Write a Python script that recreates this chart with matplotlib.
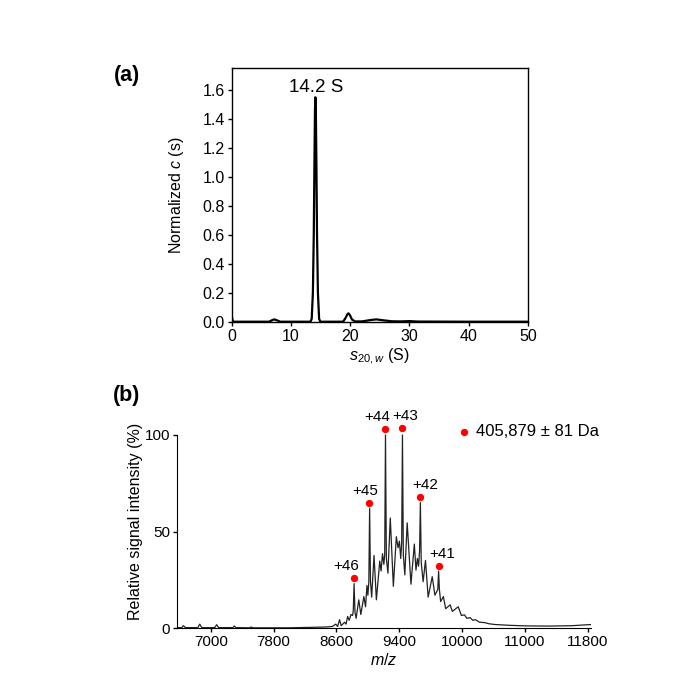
import matplotlib
matplotlib.use("Agg")
import matplotlib.pyplot as plt

plt.rcParams['font.family'] = ['Liberation Sans', 'DejaVu Sans']
plt.rcParams['mathtext.fontset'] = 'custom'
plt.rcParams['mathtext.rm'] = 'Liberation Sans'
plt.rcParams['mathtext.it'] = 'Liberation Sans:italic'

# ---------------- Panel (a): c(s) distribution ----------------
s_vals = [0.0, 0.08, 0.25, 3.0, 6.3, 6.9, 7.2, 7.6, 8.2, 13.3, 13.5, 13.7, 13.85,
          13.95, 14.05, 14.12, 14.2, 14.3, 14.4, 14.55, 14.75, 14.95, 18.8, 19.2,
          19.5, 19.7, 19.95, 20.3, 20.8, 22.0, 23.5, 24.4, 25.5, 27.0, 28.5, 30.0,
          31.5, 40.0, 50.0]
c_vals = [0.055, 0.02, 0.0, 0.0, 0.0, 0.012, 0.016, 0.01, 0.0, 0.0, 0.02, 0.2, 0.6,
          1.05, 1.45, 1.55, 1.45, 1.05, 0.6, 0.2, 0.02, 0.0, 0.0, 0.025,
          0.05, 0.058, 0.045, 0.015, 0.002, 0.002, 0.012, 0.016, 0.01, 0.003, 0.002,
          0.004, 0.001, 0.0, 0.0]
peak_label = "14.2 S"
peak_label_pos = (14.3, 1.586)

# ---------------- Panel (b): native MS spectrum ----------------
mz_vals = [6570, 6630, 6653, 6676, 6835, 6860, 6885, 7050, 7075, 7100, 7280, 7300,
           7320, 7495, 7515, 7535, 8000, 8462, 8548, 8591, 8615, 8639, 8660, 8680,
           8703, 8722, 8742, 8762, 8785, 8805, 8814, 8824, 8836, 8850, 8884, 8910,
           8949, 8970, 8988, 9000, 9012, 9022, 9033, 9048, 9078, 9108, 9151, 9168,
           9186, 9203, 9214, 9224, 9235, 9255, 9285, 9324, 9362, 9384, 9401, 9418,
           9430, 9440, 9451, 9470, 9500, 9548, 9591, 9612, 9630, 9645, 9658, 9668,
           9679, 9703, 9733, 9767, 9819, 9853, 9890, 9900, 9910, 9926, 9961, 9990,
           10047, 10075, 10150, 10190, 10230, 10260, 10300, 10336, 10370, 10420,
           10486, 10540, 10620, 10800, 11000, 11300, 11600, 11840]
inten_vals = [0.2, 0.2, 1.2, 0.2, 0.2, 2.0, 0.2, 0.2, 1.7, 0.2, 0.2, 1.0,
              0.2, 0.1, 0.5, 0.1, 0.1, 0.5, 0.8, 2.0, 0.8, 4.3, 1.2, 2.0,
              3.0, 2.0, 6.0, 4.0, 7.0, 6.5, 9.0, 23.0, 8.0, 5.0, 14.6, 7.0,
              16.3, 11.0, 22.0, 17.0, 24.0, 62.0, 24.0, 16.0, 37.6, 14.6, 34.7, 29.5,
              38.5, 33.0, 38.0, 100.0, 36.0, 28.4, 57.0, 21.6, 47.3, 41.6, 45.0, 36.0,
              44.0, 100.0, 38.0, 27.5, 54.5, 22.7, 43.5, 30.0, 36.0, 32.0, 40.0, 65.0,
              34.0, 24.0, 35.0, 16.0, 26.6, 17.0, 20.0, 29.5, 20.0, 13.7, 16.3, 10.0,
              12.0, 8.6, 11.0, 6.5, 6.8, 5.0, 5.4, 4.0, 4.3, 3.0,
              2.8, 2.2, 1.8, 1.4, 1.1, 1.0, 1.2, 1.8]

charge_labels = ["+46", "+45", "+44", "+43", "+42", "+41"]
charge_mz = [8824, 9020, 9216, 9432, 9668, 9900]
charge_dot_y = [26, 65, 103, 103.5, 68, 32]
label_dx = [-100, -60, -100, 45, 55, 40]
mass_label = "405,879 \u00b1 81 Da"

xticks_b = [7000, 7800, 8600, 9400, 10200, 11000, 11800]
xtick_labels_b = ["7000", "7800", "8600", "9400", "10000", "11000", "11800"]

W, H = 697, 696
fig = plt.figure(figsize=(W / 100, H / 100), dpi=100)

# ----- Panel (a)
axa = fig.add_axes([231.7 / W, 1 - 321.7 / H, 296.3 / W, 253.7 / H])
axa.plot(s_vals, c_vals, color='black', lw=1.6)
axa.set_xlim(0, 50)
axa.set_ylim(0, 1.752)
axa.set_xticks([0, 10, 20, 30, 40, 50])
yt = [0, 0.2, 0.4, 0.6, 0.8, 1.0, 1.2, 1.4, 1.6]
axa.set_yticks(yt)
axa.set_yticklabels([f"{v:.1f}" for v in yt])
axa.tick_params(direction='out', length=3, width=1, labelsize=11.5, pad=2)
for sp in axa.spines.values():
    sp.set_linewidth(1.0)
axa.set_ylabel(r"Normalized $\it{c}$ (s)", fontsize=11.5)
axa.yaxis.set_label_coords(-0.155, 0.5)
axa.set_xlabel(r"$\it{s}_{\it{20,w}}$ (S)", fontsize=11.5, labelpad=2)
axa.text(peak_label_pos[0], peak_label_pos[1], peak_label, ha='center',
         va='baseline', fontsize=13.5)
fig.text(127 / W, 1 - 76 / H, "(a)", ha='center', va='center', fontsize=15.5,
         fontweight='bold')

# ----- Panel (b)
axb = fig.add_axes([177 / W, 1 - 628 / H, 414 / W, 212.3 / H])
axb.plot(mz_vals, inten_vals, color='#222222', lw=0.9)
axb.scatter(charge_mz, charge_dot_y, s=28, color='#ff0000', zorder=3, clip_on=False,
            linewidths=0)
for lab, x, y, dx in zip(charge_labels, charge_mz, charge_dot_y, label_dx):
    axb.text(x + dx, y + 2.5, lab, ha='center', va='bottom', fontsize=11)
axb.scatter([10222], [101.7], s=28, color='#ff0000', clip_on=False, linewidths=0)
axb.text(10380, 101.7, mass_label, ha='left', va='center', fontsize=12)
axb.set_xlim(6570, 11840)
axb.set_ylim(0, 110)
axb.set_yticks([0, 50, 100])
axb.set_xticks(xticks_b)
axb.set_xticklabels(xtick_labels_b)
axb.spines['top'].set_visible(False)
axb.spines['right'].set_visible(False)
axb.spines['left'].set_bounds(0, 100)
axb.tick_params(direction='out', length=3, width=1, labelsize=11, pad=2)
axb.set_ylabel("Relative signal intensity (%)", fontsize=11.5)
axb.yaxis.set_label_coords(-0.083, 0.5)
axb.set_xlabel(r"$\it{m/z}$", fontsize=11.5, labelpad=2)
fig.text(127 / W, 1 - 396 / H, "(b)", ha='center', va='center', fontsize=15.5,
         fontweight='bold')

fig.savefig("out.png", dpi=100)
